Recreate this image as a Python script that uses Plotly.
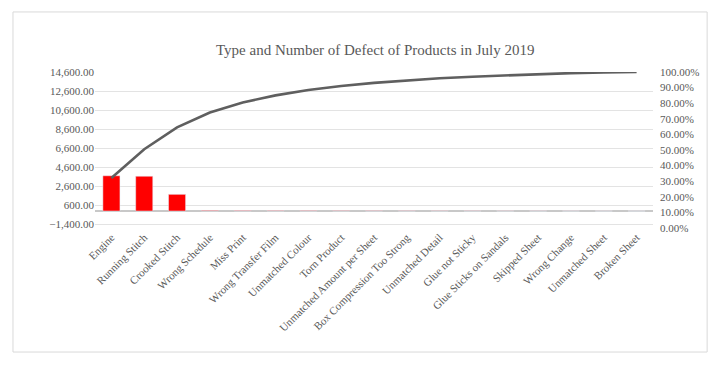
import plotly.graph_objects as go

categories = ["Engine", "Running Stitch", "Crooked Stitch", "Wrong Schedule", "Miss Print",
              "Wrong Transfer Film", "Unmatched Colour", "Torn Product",
              "Unmatched Amount per Sheet", "Box Compression Too Strong", "Unmatched Detail",
              "Glue not Sticky", "Glue Sticks on Sandals", "Skipped Sheet", "Wrong Change",
              "Unmatched Sheet", "Broken Sheet"]
defects = [3700, 3650, 1750, 60, 50, 40, 35, 30, 25, 20, 18, 15, 12, 10, 8, 6, 5]
cumulative_pct = [0.32, 0.505, 0.645, 0.74, 0.805, 0.85, 0.885, 0.91, 0.93, 0.947, 0.96,
                  0.97, 0.979, 0.987, 0.993, 0.997, 1.0]

title_text = "Type and Number of Defect of Products in July 2019"
serif = "Liberation Serif, Times New Roman, serif"
grey = "#595959"

fig = go.Figure()
fig.add_trace(go.Bar(x=categories, y=defects, marker_color="#ff0000", width=0.52,
                     name="Defects"))
fig.add_trace(go.Scatter(x=categories, y=cumulative_pct, yaxis="y2", mode="lines",
                         line=dict(color="#5f5f5f", width=2.6), name="Cumulative"))

fig.update_layout(
    width=720, height=369,
    margin=dict(l=87, r=75, t=64, b=149, autoexpand=False),
    paper_bgcolor="white", plot_bgcolor="white",
    showlegend=False,
    title=dict(text=title_text, x=0.51, xanchor="center", y=0.886, yanchor="middle",
               font=dict(family=serif, size=15, color=grey)),
    font=dict(family=serif, color=grey, size=11),
    xaxis=dict(tickangle=-45, tickfont=dict(size=11, family=serif, color=grey),
               showgrid=False, showline=False, ticks="", automargin=False),
    yaxis=dict(range=[-1786, 14600], tick0=600, dtick=2000, tickformat=",.2f",
               showgrid=True, gridcolor="#e3e3e3", gridwidth=1, automargin=False,
               zeroline=True, zerolinecolor="#c8c8c8", zerolinewidth=2,
               tickfont=dict(size=11, family=serif, color=grey)),
    yaxis2=dict(range=[0, 1], dtick=0.1, tickformat=".2%", overlaying="y", side="right",
                showgrid=False, zeroline=False, automargin=False, ticklabelstandoff=6,
                tickfont=dict(size=11, family=serif, color=grey)),
    shapes=[dict(type="rect", xref="paper", yref="paper", x0=-0.147, x1=1.097,
                 y0=-0.795, y1=1.385, line=dict(color="#d9d9d9", width=1))],
)

fig.write_html("out.html")
